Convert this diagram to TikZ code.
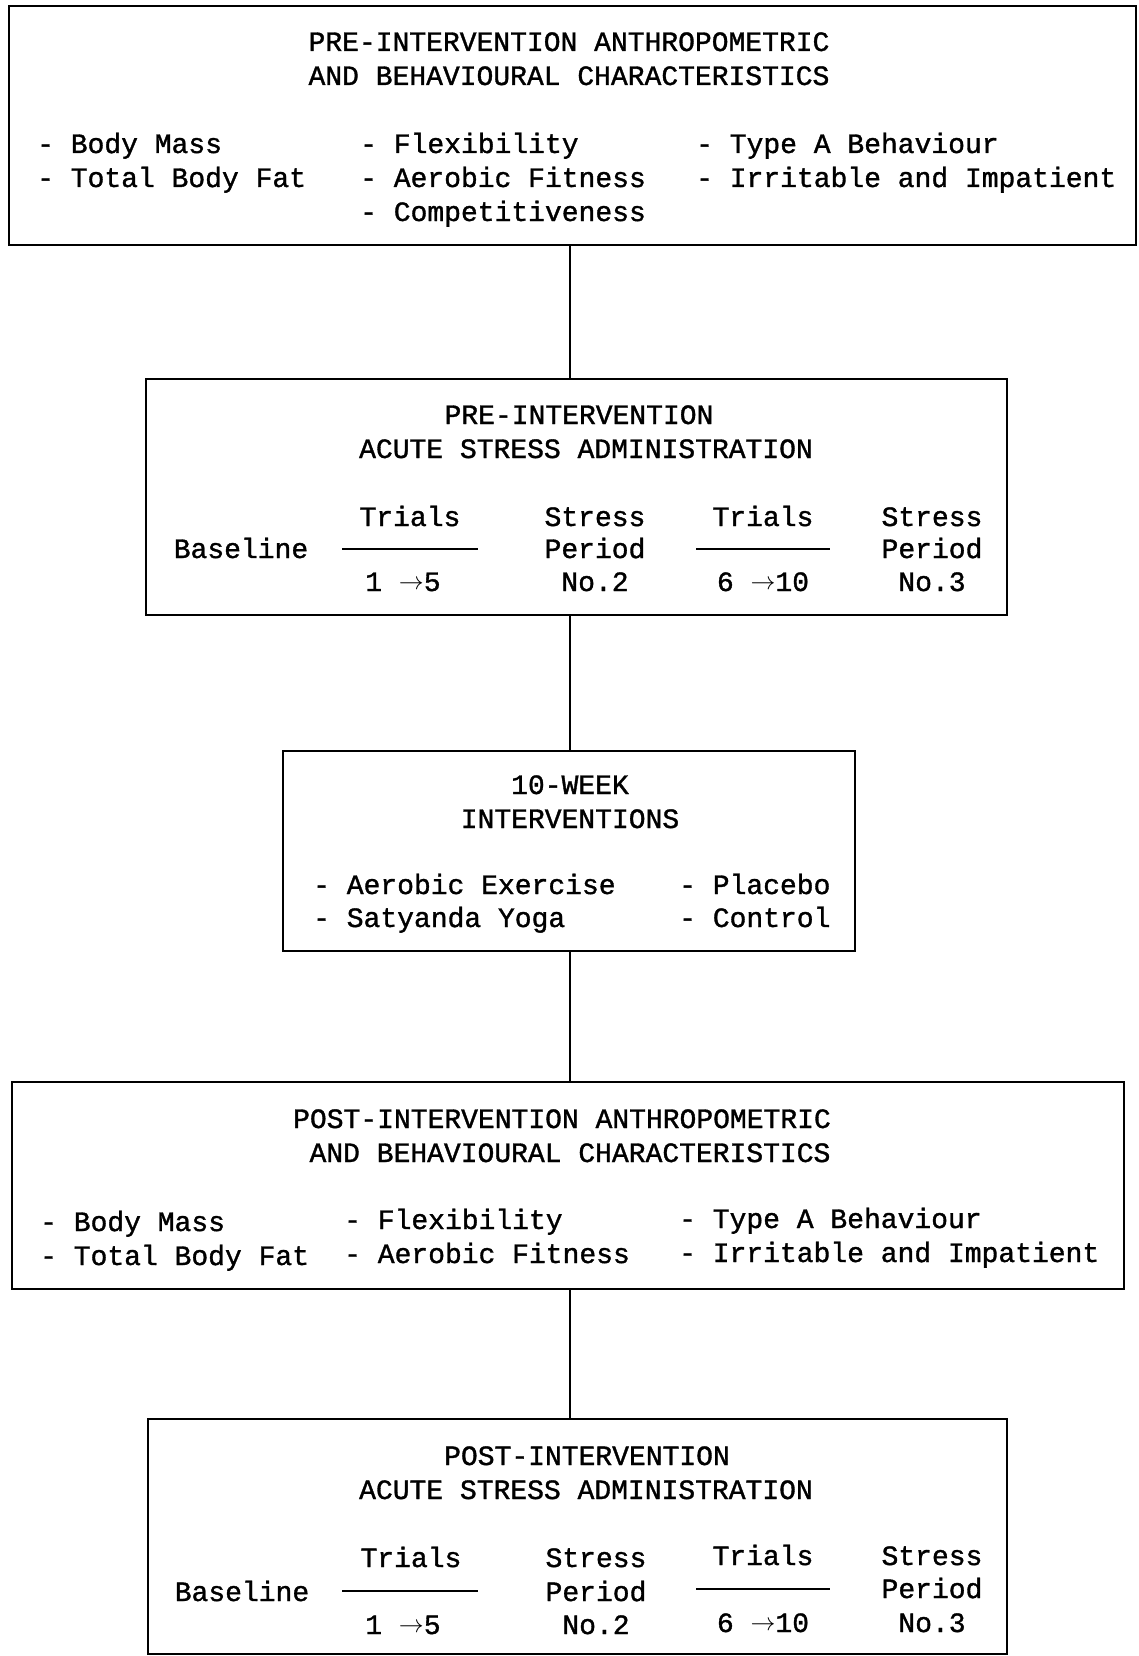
\documentclass[tikz,border=0pt]{standalone}
\usepackage{fontspec}
\setmainfont[FakeBold=1.2]{Liberation Mono}
\begin{document}
\begin{tikzpicture}[x=1pt,y=-1pt,
  box/.style={draw,line width=2pt,inner sep=0pt},
  conn/.style={line width=2pt},
  rule/.style={line width=2pt},
  txt/.style={anchor=base,inner sep=0pt,font=\fontsize{28}{34}\selectfont},
  ltxt/.style={anchor=base west,inner sep=0pt,font=\fontsize{28}{34}\selectfont}]
\newcommand{\arr}{\raisebox{2pt}{$\rightarrow$}}
\useasboundingbox (0,0) rectangle (1139,1656);
% boxes
\node[box,minimum width=1127pt,minimum height=239pt] (b1) at (572.5,125.5) {};
\node[box,minimum width=861pt,minimum height=236pt] (b2) at (576.5,497) {};
\node[box,minimum width=572pt,minimum height=200pt] (b3) at (569,851) {};
\node[box,minimum width=1112pt,minimum height=207pt] (b4) at (568,1185.5) {};
\node[box,minimum width=859pt,minimum height=235pt] (b5) at (577.5,1536.5) {};
% connectors
\coordinate (cx) at (569.5,0);
\draw[conn] (b1.south -| cx) -- (b2.north -| cx);
\draw[conn] (b2.south -| cx) -- (b3.north -| cx);
\draw[conn] (b3.south -| cx) -- (b4.north -| cx);
\draw[conn] (b4.south -| cx) -- (b5.north -| cx);
% box 1
\node[txt] (t1a) at (569,51) {PRE-INTERVENTION ANTHROPOMETRIC};
\node[txt] (t1b) at (569,85) {AND BEHAVIOURAL CHARACTERISTICS};
\node[ltxt] (l1a) at (37,153) {- Body Mass};
\node[ltxt] (l1b) at (37,187) {- Total Body Fat};
\node[ltxt] (l1c) at (360,153) {- Flexibility};
\node[ltxt] (l1d) at (360,187) {- Aerobic Fitness};
\node[ltxt] (l1e) at (360,221) {- Competitiveness};
\node[ltxt] (l1f) at (696,153) {- Type A Behaviour};
\node[ltxt] (l1g) at (696,187) {- Irritable and Impatient};
% box 2
\node[txt] (t2a) at (579,424) {PRE-INTERVENTION};
\node[txt] (t2b) at (586,458) {ACUTE STRESS ADMINISTRATION};
\node[txt] (s2a) at (241,558) {Baseline};
\node[txt] (s2b) at (410,526) {Trials};
\draw[rule] (342,548.5) -- (478,548.5);
\node[txt] (s2c) at (403,591) {1 \arr5};
\node[txt] (s2d1) at (595,526) {Stress};
\node[txt] (s2d2) at (595,558) {Period};
\node[txt] (s2d3) at (595,591) {No.2};
\node[txt] (s2e) at (763,526) {Trials};
\draw[rule] (696,548.5) -- (830,548.5);
\node[txt] (s2f) at (763,591) {6 \arr 10};
\node[txt] (s2g1) at (932,526) {Stress};
\node[txt] (s2g2) at (932,558) {Period};
\node[txt] (s2g3) at (932,591) {No.3};
% box 3
\node[txt] (t3a) at (570,794) {10-WEEK};
\node[txt] (t3b) at (570,828) {INTERVENTIONS};
\node[ltxt] (l3a) at (313,894) {- Aerobic Exercise};
\node[ltxt] (l3b) at (313,927) {- Satyanda Yoga};
\node[ltxt] (l3c) at (679,894) {- Placebo};
\node[ltxt] (l3d) at (679,927) {- Control};
% box 4
\node[txt] (t4a) at (562,1128) {POST-INTERVENTION ANTHROPOMETRIC};
\node[txt] (t4b) at (570,1162) {AND BEHAVIOURAL CHARACTERISTICS};
\node[ltxt] (l4a) at (40,1231) {- Body Mass};
\node[ltxt] (l4b) at (40,1265) {- Total Body Fat};
\node[ltxt] (l4c) at (344,1229) {- Flexibility};
\node[ltxt] (l4d) at (344,1263) {- Aerobic Fitness};
\node[ltxt] (l4e) at (679,1228) {- Type A Behaviour};
\node[ltxt] (l4f) at (679,1262) {- Irritable and Impatient};
% box 5
\node[txt] (t5a) at (587,1465) {POST-INTERVENTION};
\node[txt] (t5b) at (586,1499) {ACUTE STRESS ADMINISTRATION};
\node[txt] (s5a) at (242,1601) {Baseline};
\node[txt] (s5b) at (411,1567) {Trials};
\draw[rule] (342,1590.5) -- (478,1590.5);
\node[txt] (s5c) at (403,1634) {1 \arr5};
\node[txt] (s5d1) at (596,1567) {Stress};
\node[txt] (s5d2) at (596,1601) {Period};
\node[txt] (s5d3) at (596,1634) {No.2};
\node[txt] (s5e) at (763,1565) {Trials};
\draw[rule] (696,1588.5) -- (830,1588.5);
\node[txt] (s5f) at (763,1632) {6 \arr 10};
\node[txt] (s5g1) at (932,1565) {Stress};
\node[txt] (s5g2) at (932,1598) {Period};
\node[txt] (s5g3) at (932,1632) {No.3};
\end{tikzpicture}
\end{document}
